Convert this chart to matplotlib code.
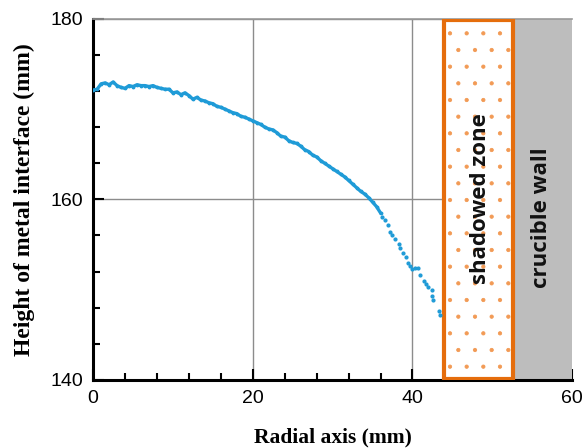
import matplotlib.pyplot as plt
from matplotlib.patches import Rectangle
from matplotlib.ticker import MultipleLocator

plt.rcParams['hatch.linewidth'] = 0.6

# dense part of the measured interface profile
radial = [0, 0.5, 1, 1.5, 2, 2.5, 3, 3.5, 4, 4.5, 5, 5.5, 6, 6.5, 7, 7.5, 8, 8.5,
          9, 9.5, 10, 10.5, 11, 11.5, 12, 12.5, 13, 13.5, 14, 14.5, 15, 15.5, 16,
          16.5, 17, 17.5, 18, 18.5, 19, 19.5, 20, 20.5, 21, 21.5, 22, 22.5, 23,
          23.5, 24, 24.5, 25, 25.5, 26, 26.5, 27, 27.5, 28, 28.5, 29, 29.5, 30,
          30.5, 31, 31.5, 32, 32.5, 33, 33.5, 34, 34.5, 35, 35.5, 36]
height = [172.1, 172.2, 172.8, 172.9, 172.7, 173.0, 172.6, 172.4, 172.3, 172.6,
          172.5, 172.7, 172.6, 172.6, 172.5, 172.6, 172.4, 172.3, 172.2, 172.2,
          171.8, 171.9, 171.6, 171.8, 171.5, 171.1, 171.3, 171.0, 170.9, 170.7,
          170.6, 170.3, 170.2, 170.0, 169.8, 169.6, 169.5, 169.2, 169.1, 168.9,
          168.7, 168.5, 168.3, 168.0, 167.8, 167.7, 167.4, 167.0, 166.9, 166.5,
          166.3, 166.2, 165.9, 165.5, 165.3, 164.9, 164.7, 164.3, 164.0, 163.7,
          163.4, 163.1, 162.8, 162.5, 162.1, 161.7, 161.3, 160.9, 160.6, 160.2,
          159.7, 159.2, 158.5]

# sparse points close to the shadowed zone
radial_sparse = [36.2, 36.5, 36.9, 37.2, 37.4, 37.8, 38.3, 38.5, 38.8, 39.2, 39.5,
                 39.7, 40.0, 40.3, 40.7, 41.0, 41.4, 41.7, 42.0, 42.4, 42.5, 42.6,
                 43.3, 43.5]
height_sparse = [158.1, 157.7, 157.2, 156.4, 156.0, 155.6, 155.0, 154.6, 154.1,
                 153.6, 153.0, 152.6, 152.3, 152.4, 152.4, 151.6, 151.0, 150.6,
                 150.3, 150.0, 149.3, 148.8, 147.6, 147.2]

shadow_zone = (43.9, 52.6)
wall_zone = (52.6, 60.0)

blue = '#1f9bd7'
orange = '#e56d0c'

fig = plt.figure(figsize=(5.82, 4.48), dpi=100)
ax = fig.add_axes([0.160, 0.152, 0.823, 0.806])

ax.set_xlim(0, 60)
ax.set_ylim(140, 180)
ax.xaxis.set_major_locator(MultipleLocator(20))
ax.xaxis.set_minor_locator(MultipleLocator(4))
ax.yaxis.set_major_locator(MultipleLocator(20))
ax.yaxis.set_minor_locator(MultipleLocator(4))
ax.grid(True, which='major', color='#8c8c8c', lw=1.0)
ax.set_axisbelow(True)

ax.tick_params(which='both', direction='in', width=1.5, labelsize=14, pad=7)
ax.tick_params(which='major', length=8)
ax.tick_params(which='minor', length=5)
for lab in ax.get_xticklabels() + ax.get_yticklabels():
    lab.set_fontfamily('Liberation Sans')

for s in ['left', 'bottom']:
    ax.spines[s].set_linewidth(2.2)
    ax.spines[s].set_color('black')
ax.spines['top'].set_color('#999999')
ax.spines['top'].set_linewidth(1.2)
ax.spines['right'].set_visible(False)

# crucible wall and shadowed zone
ax.add_patch(Rectangle((wall_zone[0], 140), wall_zone[1] - wall_zone[0], 40,
                       facecolor='#bdbdbd', edgecolor='none', zorder=2))
ax.add_patch(Rectangle((shadow_zone[0], 140), shadow_zone[1] - shadow_zone[0], 40,
                       facecolor='white', edgecolor='#f29a55', hatch='.', lw=0, zorder=3))
ax.add_patch(Rectangle((shadow_zone[0], 140.15), shadow_zone[1] - shadow_zone[0], 39.7,
                       facecolor='none', edgecolor=orange, lw=3, zorder=4))

ax.plot(radial, height, '-', color=blue, lw=2.4, zorder=5)
ax.plot(radial, height, '.', color=blue, ms=3.5, zorder=5)
ax.plot(radial_sparse, height_sparse, '.', color=blue, ms=4, zorder=5)

ax.text(48.5, 160.1, 'shadowed zone', rotation=90, ha='center', va='center',
        fontsize=16, fontweight='bold', family='Open Sans', color='#111111', zorder=6)
ax.text(56.2, 158.0, 'crucible wall', rotation=90, ha='center', va='center',
        fontsize=16, fontweight='bold', family='Open Sans', color='#111111', zorder=6)

ax.set_xlabel('Radial axis (mm)', family='Liberation Serif', fontweight='bold',
              fontsize=15.5, labelpad=15)
ax.set_ylabel('Height of metal interface (mm)', family='Liberation Serif',
              fontweight='bold', fontsize=17, labelpad=11)

fig.savefig('out.png', dpi=100)
